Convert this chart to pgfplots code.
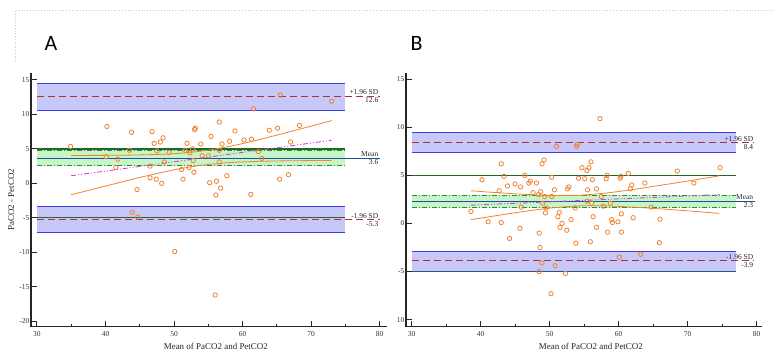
\documentclass[border=0pt]{standalone}
\usepackage{fontspec}
\setmainfont{Liberation Serif}
\newfontfamily\labfont{Carlito}
\usepackage{pgfplots}
\pgfplotsset{compat=1.18}
\definecolor{bandfill}{RGB}{200,200,248}
\definecolor{bandline}{RGB}{60,60,235}
\definecolor{reddash}{RGB}{170,50,60}
\definecolor{dkgreen}{RGB}{30,105,40}
\definecolor{greenfill}{RGB}{200,245,200}
\definecolor{greendash}{RGB}{40,140,60}
\definecolor{meanblue}{RGB}{30,80,160}
\definecolor{orng}{RGB}{240,130,50}
\definecolor{magn}{RGB}{220,60,220}

\pgfplotstableread{
x y
34.9 5.35
40.2 8.25
40.1 3.86
41.8 3.5
41.5 2.3
43.8 7.4
43.5 4.8
43.9 -4.2
44.7 -4.9
44.6 -0.9
46.8 7.5
47.1 5.8
47.5 4.7
46.5 2.5
46.5 0.8
47.4 0.6
48.2 0.0
48.0 6.0
48.4 6.6
48.6 3.1
49.3 4.5
50.1 -9.9
51.1 2.0
51.3 0.6
51.6 4.8
51.9 5.8
52.2 2.3
52.3 4.4
52.7 5.0
52.8 3.3
52.9 1.6
53.0 7.8
53.1 8.0
53.9 5.7
54.1 4.0
55.0 4.0
55.4 6.8
55.2 0.1
56.2 0.3
56.1 -1.7
56.0 -16.2
56.6 8.9
56.6 4.8
56.6 3.1
56.8 -0.7
57.0 5.7
57.7 1.1
58.1 6.1
58.9 7.6
60.2 6.3
61.3 6.4
61.2 -1.6
61.6 10.8
62.3 4.6
62.8 3.6
63.9 7.7
65.1 8.0
65.5 12.8
65.4 0.6
66.7 1.25
67.0 6.0
68.3 8.4
73.0 11.9
}\ptsA

\pgfplotstableread{
x y
38.6 1.25
40.2 4.55
41.1 0.17
42.7 3.4
43.0 6.2
43.0 0.1
43.4 4.9
43.9 3.9
44.2 -1.56
45.0 4.1
45.7 -0.5
45.8 3.8
45.9 1.7
46.4 5.0
47.0 4.2
47.2 4.4
47.6 3.2
48.1 4.2
48.4 3.0
48.5 -1.0
48.5 -5.0
48.6 -2.5
48.7 3.3
48.9 6.2
49.0 2.1
49.2 6.6
48.9 -4.1
49.3 2.8
49.4 1.1
49.5 1.6
50.3 4.8
50.3 2.8
50.2 -7.3
50.7 3.5
50.8 -4.4
51.0 8.0
51.2 0.7
51.4 1.15
51.5 -0.4
51.8 0.0
52.3 -5.2
52.5 -0.7
52.6 3.6
52.8 3.8
53.1 0.4
53.7 1.6
53.8 -2.05
53.9 8.0
54.0 8.2
54.2 4.7
54.7 5.8
55.1 4.65
55.4 2.3
55.4 5.5
55.7 5.8
55.5 3.5
55.9 -1.9
56.0 6.4
56.1 2.1
56.2 4.55
56.3 0.7
56.8 3.6
56.8 -0.4
57.3 10.9
57.5 2.8
57.8 1.8
58.2 4.65
58.3 5.0
58.4 -0.9
58.8 2.1
59.0 0.4
59.1 0.1
59.9 0.17
60.1 -3.5
60.2 4.7
60.3 4.9
60.4 1.0
60.4 -0.9
61.4 5.2
61.7 3.6
61.9 4.0
62.1 0.6
63.2 -3.2
63.8 4.2
64.7 1.7
65.9 -2.0
66.0 0.45
68.5 5.45
70.9 4.2
74.7 5.8
}\ptsB

\tikzset{lab/.style={font=\fontsize{7.5}{8}\selectfont, inner sep=1.2bp, text=black!85}}
\pgfplotsset{baplot/.style={
  scale only axis, width=355.5bp, height=254bp,
  anchor=south west,
  axis x line*=bottom, axis y line*=left,
  axis line style={line width=1.6pt, black!85, -},
  every outer x axis line/.append style={line width=1.6pt},
  every outer y axis line/.append style={line width=1.6pt},
  xtick={30,40,...,80}, minor xtick={35,45,...,75},
  tick align=inside, major tick length=6bp, minor tick length=2.5bp,
  every tick/.style={black!85, line width=1pt},
  tick label style={font=\fontsize{7.5}{8}\selectfont, text=black!80},
  xticklabel style={inner sep=1.5pt, yshift=-3bp},
  yticklabel style={inner sep=1.5pt},
  /pgf/number format/assume math mode=true,
  xlabel={Mean of PaCO2 and PetCO2},
  xlabel style={font=\fontsize{9}{10}\selectfont, text=black!85, at={(axis description cs:0.52,0)}, anchor=north, yshift=-13bp},
  ylabel style={font=\fontsize{9}{10}\selectfont, text=black!85, xshift=0bp},
  clip=false,
  band/.style={fill=bandfill, draw=none},
  bline/.style={bandline, line width=1pt},
  rdash/.style={reddash, line width=1pt, dash pattern=on 7bp off 4bp},
  gsolid/.style={dkgreen, line width=1.3pt},
  gdash/.style={greendash, line width=0.9pt, dash pattern=on 5bp off 2bp on 1bp off 2bp},
  mline/.style={meanblue, line width=1.3pt},
  ci/.style={orng, line width=0.8pt},
  reg/.style={magn, line width=0.9pt, dash pattern=on 5bp off 2bp on 1bp off 2bp on 1bp off 2bp},
  pts/.style={only marks, mark=o, mark size=2.2pt, orng, mark options={line width=0.8pt}},
}}

\begin{document}
\begin{tikzpicture}
\useasboundingbox (0bp,0bp) rectangle (775bp,353bp);
\draw[black!22, dotted, line width=0.8pt] (15bp,291bp) -- (15bp,343bp) -- (775bp,343bp);
\node[font=\labfont\fontsize{22}{24}\selectfont] at (51bp,309.5bp) {A};
\node[font=\labfont\fontsize{22}{24}\selectfont] at (416.7bp,309.5bp) {B};

% ---------------- Panel A ----------------
\begin{axis}[baplot, at={(31bp,26.3bp)},
  xmin=29.13, xmax=81, ymin=-20.8, ymax=16.05,
  ytick={-20,-15,...,15},
  ylabel={PaCO2 - PetCO2}]
\addplot[band] coordinates {(30,10.6) (75,10.6) (75,14.5) (30,14.5)} -- cycle;
\addplot[band] coordinates {(30,-7.2) (75,-7.2) (75,-3.4) (30,-3.4)} -- cycle;
\addplot[fill=greenfill, draw=none] coordinates {(30,2.5) (75,2.5) (75,4.85) (30,4.85)} -- cycle;
\addplot[bline] coordinates {(30,14.5) (75,14.5)};
\addplot[bline] coordinates {(30,10.6) (75,10.6)};
\addplot[bline] coordinates {(30,-3.4) (75,-3.4)};
\addplot[bline] coordinates {(30,-7.2) (75,-7.2)};
\addplot[rdash] coordinates {(30,12.6) (80,12.6)};
\addplot[rdash] coordinates {(30,-5.3) (80,-5.3)};
\addplot[gsolid] coordinates {(30,5) (75,5)};
\addplot[gsolid] coordinates {(30,-5) (75,-5)};
\addplot[gdash] coordinates {(30,4.72) (75,4.72)};
\addplot[gdash] coordinates {(30,2.6) (75,2.6)};
\addplot[mline] coordinates {(30,3.65) (80,3.65)};
\addplot[ci, smooth] coordinates {(35,4.05) (40,4.06) (45,4.12) (50,4.3) (54,4.68) (58,5.34) (62,6.24) (66,7.25) (70,8.3) (73,9.1)};
\addplot[ci, smooth] coordinates {(35,-1.65) (40,-0.4) (45,0.85) (50,1.96) (54,2.62) (58,3.0) (62,3.18) (66,3.26) (70,3.3) (73,3.3)};
\addplot[reg] coordinates {(35,1.1) (73,6.25)};
\addplot[pts] table[x=x, y=y] {\ptsA};
\node[lab, anchor=south east] at (axis cs:80,12.6) {+1.96 SD};
\node[lab, anchor=north east] at (axis cs:80,12.6) {12.6};
\node[lab, anchor=south east] at (axis cs:80,3.65) {Mean};
\node[lab, anchor=north east] at (axis cs:80,3.65) {3.6};
\node[lab, anchor=south east] at (axis cs:80,-5.3) {-1.96 SD};
\node[lab, anchor=north east] at (axis cs:80,-5.3) {-5.3};
\end{axis}

% ---------------- Panel B ----------------
\begin{axis}[baplot, at={(406bp,26.3bp)},
  xmin=29.2, xmax=80.7, ymin=-10.73, ymax=15.67,
  ytick={-10,-5,...,15}, yticklabels={10,-5,0,5,10,15}]
\addplot[band] coordinates {(30,7.35) (77,7.35) (77,9.5) (30,9.5)} -- cycle;
\addplot[band] coordinates {(30,-5) (77,-5) (77,-2.9) (30,-2.9)} -- cycle;
\addplot[fill=greenfill, draw=none] coordinates {(30,1.6) (77,1.6) (77,2.95) (30,2.95)} -- cycle;
\addplot[bline] coordinates {(30,9.5) (77,9.5)};
\addplot[bline] coordinates {(30,7.35) (77,7.35)};
\addplot[bline] coordinates {(30,-2.9) (77,-2.9)};
\addplot[rdash] coordinates {(30,8.4) (79.6,8.4)};
\addplot[rdash] coordinates {(30,-3.9) (79.6,-3.9)};
\addplot[gsolid] coordinates {(30,5) (77,5)};
\addplot[bline, line width=1.3pt, color=meanblue!70!dkgreen] coordinates {(30,-5) (77,-5)};
\addplot[gdash] coordinates {(30,2.9) (77,2.9)};
\addplot[gdash] coordinates {(30,1.65) (77,1.65)};
\addplot[mline] coordinates {(30,2.3) (79.8,2.3)};
\addplot[ci, smooth] coordinates {(38.6,3.4) (42,3.22) (46,3.04) (50,2.91) (54,2.92) (58,3.15) (62,3.52) (66,3.96) (70,4.41) (74.6,4.95)};
\addplot[ci, smooth] coordinates {(38.6,0.4) (42,0.78) (46,1.22) (50,1.59) (54,1.82) (58,1.83) (62,1.7) (66,1.52) (70,1.31) (74.6,1.05)};
\addplot[reg] coordinates {(38.6,1.9) (74.6,3.0)};
\addplot[pts] table[x=x, y=y] {\ptsB};
\node[lab, anchor=south east] at (axis cs:79.7,8.4) {+1.96 SD};
\node[lab, anchor=north east] at (axis cs:79.7,8.4) {8.4};
\node[lab, anchor=south east] at (axis cs:79.7,2.3) {Mean};
\node[lab, anchor=north east] at (axis cs:79.7,2.3) {2.3};
\node[lab, anchor=south east] at (axis cs:79.7,-3.9) {-1.96 SD};
\node[lab, anchor=north east] at (axis cs:79.7,-3.9) {-3.9};
\end{axis}
\end{tikzpicture}
\end{document}
